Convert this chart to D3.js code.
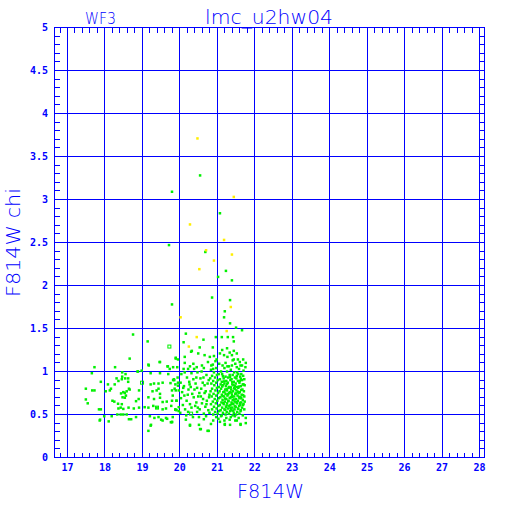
<!DOCTYPE html>
<html>
<head>
<meta charset="utf-8">
<script src="https://cdn.jsdelivr.net/npm/d3@7"></script>
<style>
  body { margin: 0; background: white; }
</style>
</head>
<body>
<div id="paper"></div>
<script>
// tick labels
const xTicks = [17, 18, 19, 20, 21, 22, 23, 24, 25, 26, 27, 28];
const yTicks = [0, 0.5, 1, 1.5, 2, 2.5, 3, 3.5, 4, 4.5, 5];
const yTickLabels = ['0', '0.5', '1', '1.5', '2', '2.5', '3', '3.5', '4', '4.5', '5'];

// points: [F814W, chi]
const highChi = [[19.79,3.09],[20.54,3.28],[21.07,2.84],[19.71,2.47],[20.68,2.39],[21.23,2.17],[21.02,2.10],[21.39,2.06],
  [20.86,1.86],[19.79,1.78],[21.34,1.83],[21.20,1.70],[21.18,1.63],[21.34,1.56],[21.50,1.51],[21.66,1.48],[20.16,1.44],
  [20.96,1.40],[21.12,1.40],[21.28,1.40],[21.42,1.40],[20.63,1.37],[21.44,1.35],[18.75,1.43],[18.66,1.15],[19.14,1.35],[20.10,1.34]];

const yellowPts = [[20.47,3.71],[21.44,3.03],[20.27,2.71],[21.18,2.53],[20.70,2.41],[21.39,2.36],[20.91,2.29],[20.52,2.19],
  [21.36,1.75],[20.02,1.63],[21.25,1.47],[20.45,1.40],[20.24,1.29]];

const openPts = [[19.72,1.29],[18.99,0.87],[19.39,0.58],[20.30,0.51]];

const upperBand = [[20.53,1.28],[20.88,1.28],[21.13,1.25],[21.26,1.27],[21.33,1.22],[21.44,1.24],[21.52,1.21],[20.30,1.23],
  [20.49,1.21],[20.32,1.24],[20.66,1.19],[20.80,1.17],[20.91,1.18],[20.98,1.14],[21.07,1.21],[21.18,1.19],[21.27,1.17],
  [21.39,1.19],[21.44,1.14],[21.55,1.14],[21.69,1.14],[21.76,1.10],[19.89,1.16],[19.46,1.11],[19.17,1.07],[19.67,1.06],
  [19.93,1.05],[20.13,1.10],[20.13,1.17],[20.36,1.09],[20.59,1.07],[20.75,1.11],[20.84,1.07],[19.82,1.05],[20.27,1.06],
  [20.45,1.05],[20.64,1.04],[20.89,1.03],[21.14,1.07],[21.27,1.06],[21.39,1.07],[21.52,1.05],[21.62,1.07],[21.75,1.05],
  [20.10,1.03],[20.22,1.03],[20.38,1.03],[19.95,1.14],[19.73,1.03],[19.68,1.06]];

const brightSide = [[17.72,1.05],[17.65,0.98],[18.27,1.05],[18.46,0.99],[18.55,0.97],[18.46,0.94],[18.54,0.92],[18.45,0.91],
  [18.88,1.00],[18.31,0.92],[17.89,0.88],[18.08,0.85],[18.26,0.85],[18.36,0.89],[18.62,0.92],[18.62,0.88],[17.49,0.80],
  [17.66,0.78],[17.72,0.78],[18.16,0.80],[18.13,0.78],[18.02,0.77],[18.49,0.76],[18.53,0.75],[18.58,0.77],[18.64,0.80],
  [18.66,0.79],[18.43,0.745],[18.47,0.70],[18.56,0.72],[18.53,0.695],[18.91,0.78],[18.83,0.655],[18.90,0.68],[18.20,0.66],
  [18.25,0.65],[17.49,0.675],[17.54,0.63],[18.35,0.625],[18.42,0.58],[18.49,0.565],[18.36,0.57],[18.45,0.62],[18.63,0.58],
  [18.77,0.57],[18.91,0.58],[17.84,0.56],[17.89,0.56],[17.98,0.48],[17.87,0.44],[17.86,0.43],[18.18,0.48],[18.10,0.42],
  [18.33,0.50],[18.42,0.50],[18.49,0.50],[18.58,0.50],[18.64,0.445],[18.70,0.445],[18.83,0.47]];

const middle = [[19.16,1.08],[19.47,1.11],[19.89,1.15],[19.22,0.98],[19.47,0.98],[19.22,0.85],[19.31,0.86],[19.43,0.86],
  [19.54,0.87],[19.82,0.90],[19.95,0.87],[19.88,0.85],[19.27,0.77],[19.43,0.80],[19.38,0.78],[19.47,0.74],[19.79,0.78],
  [19.97,0.78],[19.86,0.80],[19.16,0.70],[19.31,0.68],[19.47,0.695],[19.65,0.65],[19.54,0.645],[19.79,0.66],[19.91,0.66],
  [19.06,0.585],[19.16,0.58],[19.29,0.60],[19.38,0.58],[19.54,0.56],[19.63,0.57],[19.88,0.56],[19.97,0.585],[19.91,0.55],
  [19.20,0.48],[19.32,0.46],[19.43,0.47],[19.50,0.44],[19.63,0.46],[19.79,0.41],[19.66,0.45],[19.22,0.37],[19.16,0.31],
  [19.23,0.38],[18.87,1.00],[18.98,1.01],[19.69,0.97],[19.85,0.90],[19.94,0.93],[19.84,0.91],[19.75,0.865],[19.95,0.835],
  [19.89,0.78],[19.81,0.72],[19.91,0.66],[19.77,0.60],[19.88,0.555],[19.97,0.54],[19.81,0.47]];

const lowChi = [[20.16,0.44],[20.27,0.37],[20.54,0.33],[20.77,0.31],[21.07,0.415],[21.20,0.39],[21.48,0.43],[21.62,0.39],
  [21.76,0.46],[20.64,0.445],[20.89,0.43],[19.79,0.415],[20.27,0.38],[20.56,0.33],[20.74,0.31],[20.51,0.38],[20.83,0.39],
  [21.20,0.38],[21.34,0.38],[21.62,0.38],[21.76,0.40],[19.76,0.41],[19.54,0.43]];

const faintSide = [[20.04,0.97],[20.13,0.99],[20.19,0.93],[20.31,0.98],[20.36,0.91],[20.47,0.99],[20.55,0.92],[20.58,1.00],
  [20.71,0.96],[20.77,0.90],[20.02,0.87],[20.11,0.83],[20.25,0.88],[20.29,0.82],[20.42,0.86],[20.46,0.81],[20.61,0.87],
  [20.66,0.84],[20.74,0.86],[20.06,0.76],[20.09,0.81],[20.23,0.79],[20.33,0.74],[20.39,0.79],[20.52,0.75],[20.57,0.80],
  [20.69,0.77],[20.79,0.73],[20.03,0.69],[20.18,0.66],[20.21,0.73],[20.37,0.70],[20.44,0.64],[20.49,0.71],[20.62,0.68],
  [20.72,0.66],[20.78,0.70],[20.08,0.61],[20.14,0.56],[20.27,0.62],[20.31,0.58],[20.41,0.60],[20.53,0.56],[20.59,0.63],
  [20.68,0.59],[20.76,0.55],[20.01,0.52],[20.17,0.49],[20.22,0.53],[20.35,0.47],[20.46,0.53],[20.51,0.47],[20.64,0.51],
  [20.70,0.48],[20.79,0.52],[20.44,0.93],[20.63,0.93],[20.56,0.71],[20.26,0.85],[20.71,0.62],[20.12,0.72],[20.48,0.58],
  [20.66,0.75]];

const core = [[20.95,1.12],[21.22,1.10],[21.41,1.13],[21.60,1.11],
  [20.88,1.08],[21.05,1.09],[21.31,1.06],[21.48,1.09],[21.66,1.07],
  [20.83,1.02],[20.97,1.04],[21.10,1.00],[21.19,1.04],[21.36,1.02],[21.45,0.99],[21.58,1.03],[21.70,1.01],
  [20.91,0.99],[21.04,0.97],[21.26,1.00],[21.41,0.96],[21.53,0.99],[21.64,0.97],
  [20.86,0.95],[20.99,0.96],[21.13,0.97],[21.22,0.94],[21.33,0.96],[21.47,0.93],[21.56,0.97],[21.69,0.95],
  [20.81,0.92],[20.94,0.93],[21.07,0.91],[21.17,0.92],[21.29,0.93],[21.38,0.91],[21.51,0.92],[21.61,0.94],[21.72,0.91],
  [20.89,0.89],[21.01,0.90],[21.12,0.88],[21.24,0.89],[21.35,0.90],[21.44,0.88],[21.55,0.89],[21.66,0.90],
  [20.84,0.86],[20.97,0.87],[21.09,0.85],[21.19,0.86],[21.28,0.87],[21.40,0.85],[21.49,0.86],[21.59,0.87],[21.70,0.85],
  [20.92,0.84],[21.04,0.82],[21.15,0.84],[21.23,0.83],[21.32,0.82],[21.43,0.84],[21.52,0.82],[21.63,0.83],[21.73,0.84],
  [20.86,0.80],[20.99,0.81],[21.10,0.80],[21.21,0.79],[21.30,0.81],[21.37,0.79],[21.47,0.80],[21.56,0.81],[21.67,0.79],
  [20.82,0.77],[20.95,0.78],[21.06,0.77],[21.16,0.76],[21.26,0.78],[21.34,0.76],[21.42,0.77],[21.51,0.78],[21.60,0.76],[21.71,0.77],
  [20.90,0.74],[21.02,0.75],[21.12,0.73],[21.22,0.74],[21.31,0.75],[21.39,0.73],[21.48,0.74],[21.57,0.75],[21.65,0.73],
  [20.85,0.71],[20.97,0.72],[21.08,0.70],[21.18,0.71],[21.27,0.72],[21.36,0.70],[21.45,0.71],[21.54,0.72],[21.62,0.70],[21.72,0.71],
  [20.93,0.68],[21.04,0.69],[21.14,0.67],[21.24,0.68],[21.33,0.69],[21.41,0.67],[21.50,0.68],[21.59,0.69],[21.68,0.67],
  [20.88,0.65],[21.00,0.66],[21.11,0.64],[21.20,0.65],[21.29,0.66],[21.38,0.64],[21.46,0.65],[21.55,0.66],[21.64,0.64],[21.73,0.65],
  [20.83,0.62],[20.96,0.63],[21.07,0.61],[21.17,0.62],[21.26,0.63],[21.35,0.61],[21.43,0.62],[21.52,0.63],[21.61,0.61],[21.70,0.62],
  [20.91,0.59],[21.03,0.60],[21.13,0.58],[21.23,0.59],[21.32,0.60],[21.40,0.58],[21.49,0.59],[21.58,0.60],[21.66,0.58],
  [20.86,0.56],[20.98,0.57],[21.09,0.55],[21.19,0.56],[21.28,0.57],[21.37,0.55],[21.46,0.56],[21.55,0.57],[21.63,0.55],[21.72,0.56],
  [20.94,0.53],[21.05,0.54],[21.15,0.52],[21.25,0.53],[21.34,0.54],[21.44,0.52],[21.53,0.53],[21.62,0.54],
  [20.89,0.50],[21.01,0.51],[21.12,0.49],[21.22,0.50],[21.31,0.51],[21.41,0.49],[21.50,0.50],[21.59,0.51],[21.68,0.49],
  [20.97,0.47],[21.10,0.48],[21.24,0.46],[21.36,0.47],[21.47,0.48],[21.57,0.46],
  [21.03,0.45],[21.19,0.43],[21.33,0.44],[21.52,0.43],
  [21.15,0.945],[21.34,0.935],[21.52,0.95],[21.63,0.915],[21.18,0.885],[21.40,0.875],[21.60,0.89],[21.26,0.855],[21.47,0.83],
  [21.68,0.85],[21.13,0.825],[21.36,0.815],[21.58,0.825],[21.25,0.795],[21.45,0.805],[21.64,0.785],[21.19,0.765],[21.38,0.755],
  [21.55,0.765],[21.29,0.735],[21.50,0.745],[21.69,0.725],[21.14,0.715],[21.40,0.705],[21.58,0.705],[21.21,0.685],[21.45,0.675],
  [21.64,0.69],[21.30,0.655],[21.51,0.645],[21.16,0.635],[21.39,0.625],[21.60,0.635],[21.25,0.605],[21.47,0.595],[21.68,0.61],
  [21.35,0.575],[21.56,0.565],[21.21,0.555],[21.42,0.545]];

const greenPts = [].concat(highChi, upperBand, brightSide, middle, faintSide, core, lowChi);

const blue = '#0000ff';
const left = 54.5, right = 484.5;

const x = d3.scaleLinear().domain([17, 28]).range([67.5, 479.5]);
const y = d3.scaleLinear().domain([0, 5]).range([457.5, 27.5]);

const svg = d3.select('#paper')
  .append('svg')
  .attr('id', 'canvas')
  .attr('width', 512)
  .attr('height', 512)
  .style('background-color', 'white');

const frame = svg.append('g').attr('shape-rendering', 'crispEdges');

// grid
frame.selectAll('.vgrid')
  .data(xTicks)
  .join('line')
  .attr('class', 'vgrid')
  .attr('x1', d => x(d)).attr('x2', d => x(d))
  .attr('y1', y(0)).attr('y2', y(5))
  .attr('stroke', blue);

frame.selectAll('.hgrid')
  .data(yTicks)
  .join('line')
  .attr('class', 'hgrid')
  .attr('x1', left).attr('x2', right)
  .attr('y1', d => y(d)).attr('y2', d => y(d))
  .attr('stroke', blue);

// minor ticks
const xMinor = d3.range(16.8, 28, 0.2).filter(v => Math.abs(v - Math.round(v)) > 0.01);
const yMinor = d3.range(0.1, 5, 0.1).filter(v => Math.abs(v * 2 - Math.round(v * 2)) > 0.01);

frame.selectAll('.xminTop')
  .data(xMinor)
  .join('line')
  .attr('x1', d => x(d)).attr('x2', d => x(d))
  .attr('y1', y(5)).attr('y2', y(5) + 5)
  .attr('stroke', blue);

frame.selectAll('.xminBot')
  .data(xMinor)
  .join('line')
  .attr('x1', d => x(d)).attr('x2', d => x(d))
  .attr('y1', y(0)).attr('y2', y(0) - 5)
  .attr('stroke', blue);

frame.selectAll('.yminL')
  .data(yMinor)
  .join('line')
  .attr('x1', left).attr('x2', left + 5)
  .attr('y1', d => y(d)).attr('y2', d => y(d))
  .attr('stroke', blue);

frame.selectAll('.yminR')
  .data(yMinor)
  .join('line')
  .attr('x1', right).attr('x2', right - 5)
  .attr('y1', d => y(d)).attr('y2', d => y(d))
  .attr('stroke', blue);

frame.append('rect')
  .attr('x', left).attr('y', y(5))
  .attr('width', right - left).attr('height', y(0) - y(5))
  .attr('fill', 'none')
  .attr('stroke', blue);

// tick labels
svg.selectAll('.xlab')
  .data(xTicks)
  .join('text')
  .attr('class', 'xlab')
  .attr('x', d => x(d))
  .attr('y', 471)
  .attr('font-family', 'DejaVu Sans Mono')
  .attr('font-weight', 'bold')
  .attr('font-size', '10px')
  .attr('text-anchor', 'middle')
  .attr('fill', blue)
  .text(d => d);

svg.selectAll('.ylab')
  .data(yTicks)
  .join('text')
  .attr('class', 'ylab')
  .attr('x', 48)
  .attr('y', d => y(d) + 3.6)
  .attr('font-family', 'DejaVu Sans Mono')
  .attr('font-weight', 'bold')
  .attr('font-size', '10px')
  .attr('text-anchor', 'end')
  .attr('fill', blue)
  .text((d, i) => yTickLabels[i]);

// points
svg.selectAll('.green')
  .data(greenPts)
  .join('rect')
  .attr('class', 'green')
  .attr('x', d => x(d[0]) - 1.25)
  .attr('y', d => y(d[1]) - 1.25)
  .attr('width', 2.5)
  .attr('height', 2.5)
  .attr('fill', '#00f000');

svg.selectAll('.open')
  .data(openPts)
  .join('rect')
  .attr('class', 'open')
  .attr('x', d => x(d[0]) - 1.5)
  .attr('y', d => y(d[1]) - 1.5)
  .attr('width', 3)
  .attr('height', 3)
  .attr('fill', 'none')
  .attr('stroke', '#00f000')
  .attr('stroke-width', 1);

svg.selectAll('.yellow')
  .data(yellowPts)
  .join('rect')
  .attr('class', 'yellow')
  .attr('x', d => x(d[0]) - 1.25)
  .attr('y', d => y(d[1]) - 1.25)
  .attr('width', 2.5)
  .attr('height', 2.5)
  .attr('fill', '#ffee00');

// titles
const thin = 'DejaVu Sans';
svg.append('text')
  .attr('x', 269).attr('y', 24)
  .attr('font-family', thin).attr('font-weight', 200).attr('font-size', '20px')
  .attr('text-anchor', 'middle').attr('fill', blue)
  .attr('textLength', 128).attr('lengthAdjust', 'spacingAndGlyphs')
  .text('lmc_u2hw04');

svg.append('text')
  .attr('x', 100.5).attr('y', 24)
  .attr('font-family', thin).attr('font-weight', 200).attr('font-size', '16px')
  .attr('text-anchor', 'middle').attr('fill', blue)
  .attr('textLength', 31).attr('lengthAdjust', 'spacingAndGlyphs')
  .text('WF3');

svg.append('text')
  .attr('x', 270.5).attr('y', 498)
  .attr('font-family', thin).attr('font-weight', 200).attr('font-size', '20px')
  .attr('text-anchor', 'middle').attr('fill', blue)
  .attr('textLength', 67).attr('lengthAdjust', 'spacingAndGlyphs')
  .text('F814W');

svg.append('text')
  .attr('transform', 'translate(19.5,242.5) rotate(-90)')
  .attr('font-family', thin).attr('font-weight', 200).attr('font-size', '20px')
  .attr('text-anchor', 'middle').attr('fill', blue)
  .attr('textLength', 109).attr('lengthAdjust', 'spacingAndGlyphs')
  .text('F814W chi');
</script>
</body>
</html>
